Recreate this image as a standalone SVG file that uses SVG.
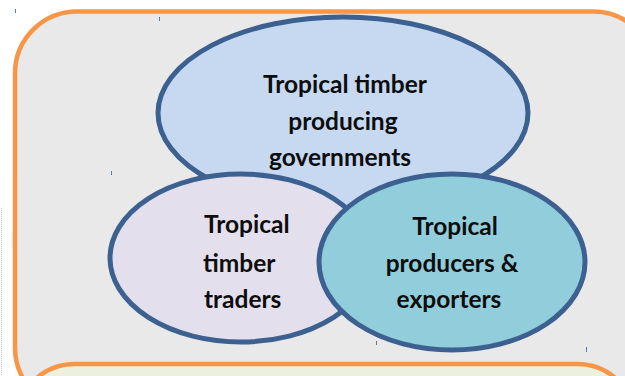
<svg xmlns="http://www.w3.org/2000/svg" width="625" height="376" viewBox="0 0 625 376">
<style>
.frame{fill:#e9e9e9;stroke:#f79646;stroke-width:4.5}
.frame2{fill:#ebf1de;stroke:#f79646;stroke-width:4.5}
.ell{stroke:#3c6090;stroke-width:5}
.lbl{font-family:Lato,"Liberation Sans",sans-serif;font-weight:bold;font-size:24.5px;fill:#0d0d0d}
.tick{stroke:#5a7aa8;stroke-width:1}
</style>
<rect width="625" height="376" fill="#ffffff"/>
<rect class="frame" x="15" y="11.5" width="640" height="398" rx="62" ry="62"/>
<rect class="frame2" x="20" y="364" width="612" height="100" rx="55" ry="55"/>
<line x1="1.5" y1="208" x2="1.5" y2="376" stroke="#c8c8c8" stroke-width="1" stroke-dasharray="1,1"/>
<g id="ticks">
<line class="tick" x1="15.5" y1="9" x2="15.5" y2="13"/>
<line class="tick" x1="159.5" y1="17" x2="159.5" y2="21"/>
<line class="tick" x1="111.5" y1="171" x2="111.5" y2="175"/>
<line class="tick" x1="319.5" y1="172" x2="319.5" y2="176"/>
<line class="tick" x1="376.5" y1="341" x2="376.5" y2="345"/>
<line class="tick" x1="586.5" y1="347" x2="586.5" y2="352"/>
</g>
<g id="governments">
<ellipse class="ell" cx="343" cy="113" rx="185" ry="96" fill="#c6d9f0"/>
<text class="lbl" text-anchor="middle"><tspan x="345" y="93">Tropical timber</tspan><tspan x="343" y="130">producing</tspan><tspan x="340" y="166">governments</tspan></text>
</g>
<g id="traders">
<ellipse class="ell" cx="241" cy="258" rx="131" ry="84" fill="#e4dfec"/>
<text class="lbl"><tspan x="204" y="233">Tropical</tspan><tspan x="203" y="272">timber</tspan><tspan x="204" y="308">traders</tspan></text>
</g>
<g id="exporters">
<ellipse class="ell" cx="452" cy="262" rx="133" ry="88" fill="#92cddc"/>
<text class="lbl" text-anchor="middle"><tspan x="455" y="235">Tropical</tspan><tspan x="452" y="272">producers &amp;</tspan><tspan x="449" y="308">exporters</tspan></text>
</g>
<g id="connectors"/>
</svg>
